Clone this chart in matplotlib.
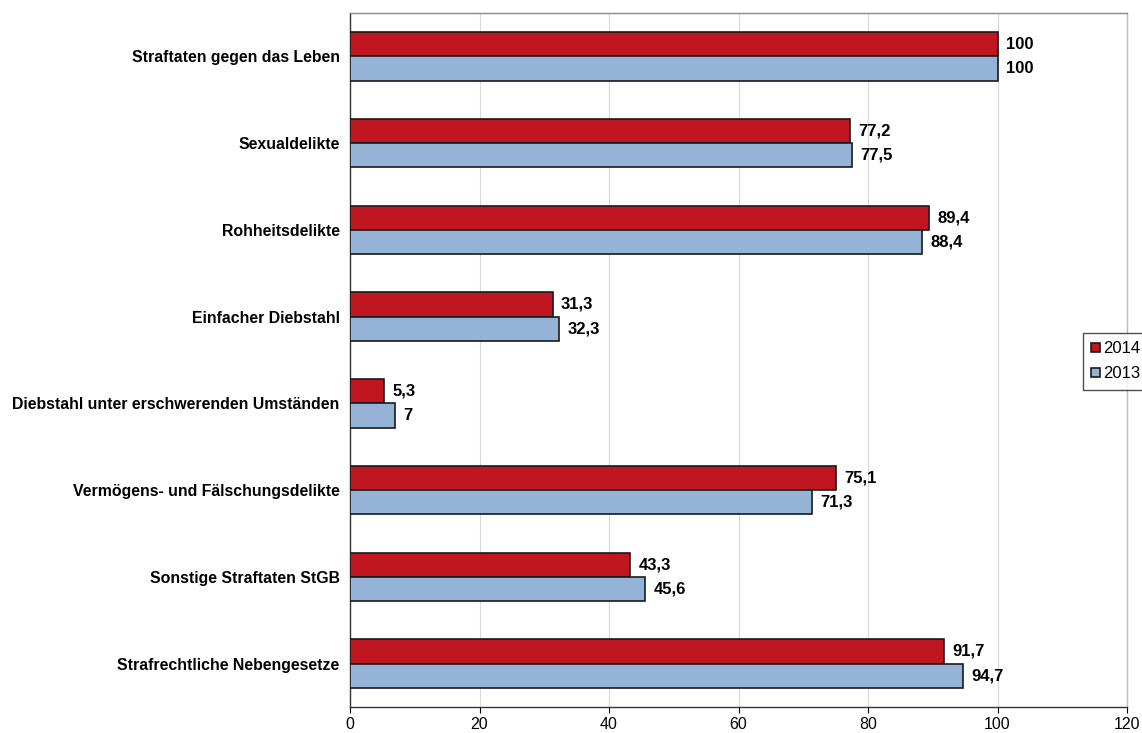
import matplotlib
matplotlib.use("Agg")
import matplotlib.pyplot as plt
import numpy as np

categories = ["Straftaten gegen das Leben", "Sexualdelikte", "Rohheitsdelikte",
              "Einfacher Diebstahl", "Diebstahl unter erschwerenden Umständen",
              "Vermögens- und Fälschungsdelikte", "Sonstige Straftaten StGB",
              "Strafrechtliche Nebengesetze"]
v2014 = [100, 77.2, 89.4, 31.3, 5.3, 75.1, 43.3, 91.7]
v2013 = [100, 77.5, 88.4, 32.3, 7, 71.3, 45.6, 94.7]
lab2014 = ["100", "77,2", "89,4", "31,3", "5,3", "75,1", "43,3", "91,7"]
lab2013 = ["100", "77,5", "88,4", "32,3", "7", "71,3", "45,6", "94,7"]
xticks = [0, 20, 40, 60, 80, 100, 120]

plt.rcParams['font.family'] = ['Liberation Sans', 'DejaVu Sans']

fig = plt.figure(figsize=(11.42, 7.33), dpi=100)
ax = fig.add_axes([350/1142, 1 - 707/733, (1127-350)/1142, (707-13)/733])

y = np.arange(len(categories))
h = 0.28
red = "#C0161F"
blue = "#95B3D7"
ax.barh(y - h/2, v2014, height=h, color=red, edgecolor="#1a1a1a", linewidth=1.2, label="2014", zorder=3)
ax.barh(y + h/2, v2013, height=h, color=blue, edgecolor="#1a1a1a", linewidth=1.2, label="2013", zorder=3)

for yi, v, t in zip(y, v2014, lab2014):
    ax.annotate(t, (v, yi - h/2), xytext=(6, 0), textcoords="offset points",
                va="center", ha="left", fontsize=12, fontweight="bold")
for yi, v, t in zip(y, v2013, lab2013):
    ax.annotate(t, (v, yi + h/2), xytext=(6, 0), textcoords="offset points",
                va="center", ha="left", fontsize=12, fontweight="bold")

ax.set_xlim(0, 120)
ax.set_ylim(len(categories) - 0.5, -0.5)
ax.set_xticks(xticks)
ax.set_xticklabels([str(t) for t in xticks], fontsize=11.5)
ax.set_yticks(y)
ax.set_yticklabels(categories, fontsize=11.4, fontweight="bold")
ax.tick_params(axis="y", length=0, pad=7.5)
ax.tick_params(axis="x", length=4, direction="out", pad=3)
ax.grid(axis="x", color="#d9d9d9", linewidth=0.8, zorder=0)
for s in ax.spines.values():
    s.set_color("#333333")
    s.set_linewidth(1.0)
ax.spines["right"].set_color("#bbbbbb")
ax.spines["top"].set_color("#888888")

leg = fig.legend(loc="upper left", bbox_to_anchor=(1083/1142, 1 - 333/733),
                 fontsize=12, frameon=True, fancybox=False, edgecolor="#222222",
                 handlelength=0.5, handleheight=0.5, handletextpad=0.2,
                 borderpad=0.5, labelspacing=0.6, borderaxespad=0)
leg.get_frame().set_linewidth(1.0)

fig.savefig("out.png", dpi=100)
